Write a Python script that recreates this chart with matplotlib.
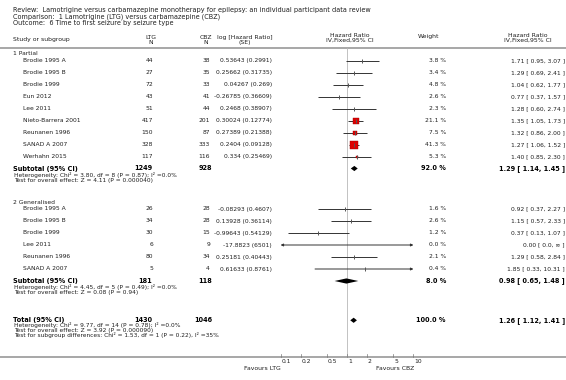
import numpy as np
import matplotlib
matplotlib.use("Agg")
import matplotlib.pyplot as plt

# ---------------- data ----------------
title_lines = [
    "Review:  Lamotrigine versus carbamazepine monotherapy for epilepsy: an individual participant data review",
    "Comparison:  1 Lamotrigine (LTG) versus carbamazepine (CBZ)",
    "Outcome:  6 Time to first seizure by seizure type",
]

group_names = ["1 Partial", "2 Generalised"]

p_studies = ["Brodie 1995 A", "Brodie 1995 B", "Brodie 1999", "Eun 2012", "Lee 2011",
             "Nieto-Barrera 2001", "Reunanen 1996", "SANAD A 2007", "Werhahn 2015"]
p_ltg = [44, 27, 72, 43, 51, 417, 150, 328, 117]
p_cbz = [38, 35, 33, 41, 44, 201, 87, 333, 116]
p_loghr = ["0.53643 (0.2991)", "0.25662 (0.31735)", "0.04267 (0.269)", "-0.26785 (0.36609)",
           "0.2468 (0.38907)", "0.30024 (0.12774)", "0.27389 (0.21388)", "0.2404 (0.09128)",
           "0.334 (0.25469)"]
p_weight = [3.8, 3.4, 4.8, 2.6, 2.3, 21.1, 7.5, 41.3, 5.3]
p_hr = [1.71, 1.29, 1.04, 0.77, 1.28, 1.35, 1.32, 1.27, 1.40]
p_lo = [0.95, 0.69, 0.62, 0.37, 0.60, 1.05, 0.86, 1.06, 0.85]
p_hi = [3.07, 2.41, 1.77, 1.57, 2.74, 1.73, 2.00, 1.52, 2.30]

g_studies = ["Brodie 1995 A", "Brodie 1995 B", "Brodie 1999", "Lee 2011",
             "Reunanen 1996", "SANAD A 2007"]
g_ltg = [26, 34, 30, 6, 80, 5]
g_cbz = [28, 28, 15, 9, 34, 4]
g_loghr = ["-0.08293 (0.4607)", "0.13928 (0.36114)", "-0.99643 (0.54129)", "-17.8823 (6501)",
           "0.25181 (0.40443)", "0.61633 (0.8761)"]
g_weight = [1.6, 2.6, 1.2, 0.0, 2.1, 0.4]
g_hr = [0.92, 1.15, 0.37, 0.00, 1.29, 1.85]
g_lo = [0.37, 0.57, 0.13, 0.0, 0.58, 0.33]
g_hi = [2.27, 2.33, 1.07, np.inf, 2.84, 10.31]
g_hi_txt = ["2.27", "2.33", "1.07", "\u221e", "2.84", "10.31"]
g_lo_txt = ["0.37", "0.57", "0.13", "0.0", "0.58", "0.33"]

sub_ltg = [1249, 181]
sub_cbz = [928, 118]
sub_weight = [92.0, 8.0]
sub_hr = [1.29, 0.98]
sub_lo = [1.14, 0.65]
sub_hi = [1.45, 1.48]
sub_het = ["Heterogeneity: Chi\u00b2 = 3.80, df = 8 (P = 0.87); I\u00b2 =0.0%",
           "Heterogeneity: Chi\u00b2 = 4.45, df = 5 (P = 0.49); I\u00b2 =0.0%"]
sub_test = ["Test for overall effect: Z = 4.11 (P = 0.000040)",
            "Test for overall effect: Z = 0.08 (P = 0.94)"]

tot_ltg = 1430
tot_cbz = 1046
tot_weight = 100.0
tot_hr, tot_lo, tot_hi = 1.26, 1.12, 1.41
tot_notes = ["Heterogeneity: Chi\u00b2 = 9.77, df = 14 (P = 0.78); I\u00b2 =0.0%",
             "Test for overall effect: Z = 3.92 (P = 0.000090)",
             "Test for subgroup differences: Chi\u00b2 = 1.53, df = 1 (P = 0.22), I\u00b2 =35%"]

axis_ticks = [0.1, 0.2, 0.5, 1, 2, 5, 10]
axis_labels = ["0.1", "0.2", "0.5", "1", "2", "5", "10"]
favours = ["Favours LTG", "Favours CBZ"]

# ---------------- layout ----------------
W, H = 566, 380
fig = plt.figure(figsize=(W / 100, H / 100), dpi=100)
ax = fig.add_axes([0, 0, 1, 1])
ax.set_xlim(0, W)
ax.set_ylim(H, 0)
ax.axis("off")

FX0, FX1 = 280.6, 413.4
fax = fig.add_axes([FX0 / W, 0, (FX1 - FX0) / W, 1])
fax.set_xscale("log")
fax.set_xlim(0.1, 10)
fax.set_ylim(H, 0)
fax.axis("off")

TXT = "#1e1e1e"
GREY = "#a0a0a0"
RED = "#dd0000"
fs_title = 4.7
fs_head = 4.4
fs_name = 4.3
fs_num = 4.3
fs_note = 4.2
fs_bold = 4.7

# title
for i, t in enumerate(title_lines):
    ax.text(12.7, 10.3 + i * 6.4, t, fontsize=fs_title, color=TXT, va="center", ha="left")

# header
ax.text(12.7, 39, "Study or subgroup", fontsize=fs_head, color=TXT, va="center")
ax.text(151, 37.7, "LTG", fontsize=fs_head, color=TXT, va="center", ha="center")
ax.text(151, 42.7, "N", fontsize=fs_head, color=TXT, va="center", ha="center")
ax.text(206, 37.7, "CBZ", fontsize=fs_head, color=TXT, va="center", ha="center")
ax.text(206, 42.7, "N", fontsize=fs_head, color=TXT, va="center", ha="center")
ax.text(245, 37.7, "log [Hazard Ratio]", fontsize=fs_head, color=TXT, va="center", ha="center")
ax.text(245, 42.7, "(SE)", fontsize=fs_head, color=TXT, va="center", ha="center")
ax.text(350, 35.5, "Hazard Ratio", fontsize=fs_head, color=TXT, va="center", ha="center")
ax.text(350, 40.5, "IV,Fixed,95% CI", fontsize=fs_head, color=TXT, va="center", ha="center")
ax.text(418, 36.5, "Weight", fontsize=fs_head, color=TXT, va="center", ha="left")
ax.text(528, 35.5, "Hazard Ratio", fontsize=fs_head, color=TXT, va="center", ha="center")
ax.text(528, 40.5, "IV,Fixed,95% CI", fontsize=fs_head, color=TXT, va="center", ha="center")
ax.plot([0, W], [47.8, 47.8], color=GREY, lw=1.3, solid_capstyle="butt")

# reference line at 1 and bottom axis
AXIS_Y = 356.5
fax.plot([1, 1], [47.8, AXIS_Y], color="#b8b8b8", lw=0.6, clip_on=False)
ax.plot([0, W], [AXIS_Y, AXIS_Y], color=GREY, lw=1.3, solid_capstyle="butt")
for t, lab in zip(axis_ticks, axis_labels):
    fax.plot([t, t], [AXIS_Y - 2.4, AXIS_Y], color="#777777", lw=0.5, clip_on=False)
    fax.annotate(lab, xy=(t, AXIS_Y + 5), xytext=(0.6, 0), textcoords="offset points",
                 fontsize=fs_name, color=TXT, va="center", ha="left", annotation_clip=False)
ax.text(281, 368.5, favours[0], fontsize=fs_head, color=TXT, va="center", ha="right")
ax.text(376, 368.5, favours[1], fontsize=fs_head, color=TXT, va="center", ha="left")

MAXW = 41.3
MAXSIDE_PT = 8.0 * 0.72


def study_row(y, name, n1, n2, lhr, w, hr, lo, hi, lo_txt=None, hi_txt=None):
    ax.text(23.3, y, name, fontsize=fs_name, color=TXT, va="center", ha="left")
    ax.text(153, y, str(n1), fontsize=fs_num, color=TXT, va="center", ha="right")
    ax.text(210, y, str(n2), fontsize=fs_num, color=TXT, va="center", ha="right")
    ax.text(272, y, lhr, fontsize=fs_num, color=TXT, va="center", ha="right")
    ax.text(446, y, f"{w:.1f} %", fontsize=fs_num, color=TXT, va="center", ha="right")
    lt = lo_txt if lo_txt is not None else f"{lo:.2f}"
    ht = hi_txt if hi_txt is not None else f"{hi:.2f}"
    ax.text(565, y, f"{hr:.2f} [ {lt}, {ht} ]", fontsize=fs_num, color=TXT, va="center", ha="right")
    # CI line, clipped to the plotted range with arrows
    a = max(lo, 0.1)
    b = min(hi, 10)
    left_arrow = lo < 0.1
    right_arrow = hi > 10
    if left_arrow and right_arrow:
        style = "<|-|>"
    elif left_arrow:
        style = "<|-"
    elif right_arrow:
        style = "-|>"
    else:
        style = "-"
    if style == "-":
        fax.plot([a, b], [y, y], color="#333333", lw=0.7, solid_capstyle="butt")
    else:
        fax.annotate("", xy=(b, y), xytext=(a, y),
                     arrowprops=dict(arrowstyle=style, color="#333333", lw=0.7,
                                     mutation_scale=3.5, shrinkA=0, shrinkB=0))
    if 0.1 <= hr <= 10 and hr > 0:
        side = MAXSIDE_PT * np.sqrt(w / MAXW)
        if w >= 5:
            fax.scatter([hr], [y], s=side ** 2, marker="s", color=RED, edgecolors="#a00000",
                        linewidths=0.3, zorder=3)
        fax.plot([hr], [y], marker="|", markersize=2.4, color="#555555", mew=0.7, zorder=4)


def diamond(y, hr, lo, hi, h=2.6):
    fax.fill([lo, hr, hi, hr], [y, y - h, y, y + h], color="black", lw=0, zorder=3)


def summary_row(y, label, n1, n2, w, hr, lo, hi):
    kw = dict(fontsize=fs_bold, color="black", va="center", fontweight="bold")
    ax.text(12.7, y, label, ha="left", **kw)
    ax.text(152, y, str(n1), ha="right", **kw)
    ax.text(212, y, str(n2), ha="right", **kw)
    ax.text(446, y, f"{w:.1f} %", ha="right", **kw)
    ax.text(565, y, f"{hr:.2f} [ {lo:.2f}, {hi:.2f} ]", ha="right", **kw)
    diamond(y, hr, lo, hi)


# Partial group
ax.text(12.7, 53.3, group_names[0], fontsize=fs_name, color=TXT, va="center")
for i in range(len(p_studies)):
    study_row(60.5 + 12 * i, p_studies[i], p_ltg[i], p_cbz[i], p_loghr[i], p_weight[i],
              p_hr[i], p_lo[i], p_hi[i])
summary_row(168.5, "Subtotal (95% CI)", sub_ltg[0], sub_cbz[0], sub_weight[0], sub_hr[0], sub_lo[0], sub_hi[0])
ax.text(14, 175.3, sub_het[0], fontsize=fs_note, color=TXT, va="center")
ax.text(14, 180.3, sub_test[0], fontsize=fs_note, color=TXT, va="center")

# Generalised group
ax.text(12.7, 202, group_names[1], fontsize=fs_name, color=TXT, va="center")
for i in range(len(g_studies)):
    study_row(209 + 12 * i, g_studies[i], g_ltg[i], g_cbz[i], g_loghr[i], g_weight[i],
              g_hr[i], g_lo[i], g_hi[i], lo_txt=g_lo_txt[i], hi_txt=g_hi_txt[i])
summary_row(281, "Subtotal (95% CI)", sub_ltg[1], sub_cbz[1], sub_weight[1], sub_hr[1], sub_lo[1], sub_hi[1])
ax.text(14, 287.5, sub_het[1], fontsize=fs_note, color=TXT, va="center")
ax.text(14, 292.5, sub_test[1], fontsize=fs_note, color=TXT, va="center")

# Total
summary_row(320.3, "Total (95% CI)", tot_ltg, tot_cbz, tot_weight, tot_hr, tot_lo, tot_hi)
for i, t in enumerate(tot_notes):
    ax.text(14, 325.3 + 4.8 * i, t, fontsize=fs_note, color=TXT, va="center")

fig.savefig("out.png", dpi=100, facecolor="white")
